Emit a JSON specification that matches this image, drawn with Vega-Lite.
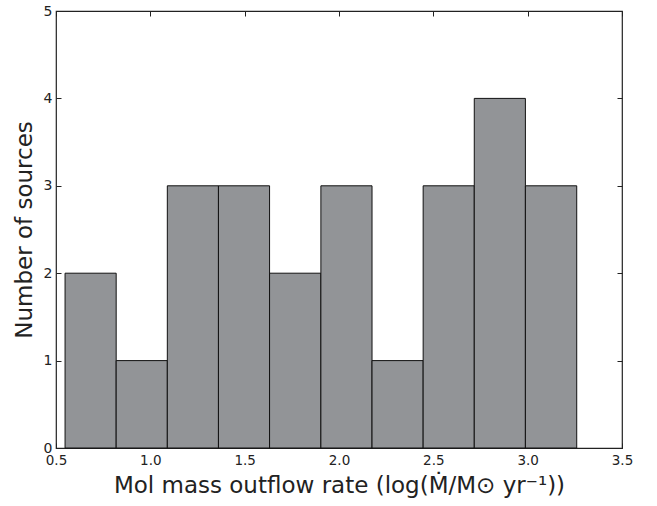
{
  "$schema": "https://vega.github.io/schema/vega-lite/v6.json",
  "width": 566,
  "height": 437,
  "autosize": {"type": "none"},
  "padding": {"left": 56, "top": 11, "right": 35, "bottom": 58},
  "background": "white",
  "config": {
    "view": {"stroke": "#222", "strokeWidth": 1.2},
    "font": "DejaVu Sans",
    "scale": {"continuousPadding": 0},
    "axis": {"grid": false, "domain": false, "tickColor": "#222", "tickSize": -5, "labelFlush": false, "labelColor": "#222", "titleColor": "#222", "labelFont": "DejaVu Sans", "titleFont": "DejaVu Sans", "titleFontWeight": "normal"}
  },
  "data": {"values": [
    {"start": 0.548, "end": 0.819, "count": 2},
    {"start": 0.819, "end": 1.090, "count": 1},
    {"start": 1.090, "end": 1.361, "count": 3},
    {"start": 1.361, "end": 1.632, "count": 3},
    {"start": 1.632, "end": 1.904, "count": 2},
    {"start": 1.904, "end": 2.175, "count": 3},
    {"start": 2.175, "end": 2.446, "count": 1},
    {"start": 2.446, "end": 2.717, "count": 3},
    {"start": 2.717, "end": 2.988, "count": 4},
    {"start": 2.988, "end": 3.260, "count": 3}
  ]},
  "layer": [
    {
      "mark": {"type": "bar", "fill": "#929497", "stroke": "#111", "strokeWidth": 1},
      "encoding": {
        "x": {"field": "start", "type": "quantitative", "scale": {"domain": [0.5, 3.5], "nice": false, "zero": false, "padding": 0},
          "axis": {"orient": "bottom", "values": [0.5, 1.0, 1.5, 2.0, 2.5, 3.0, 3.5], "format": ".1f", "labelFontSize": 13.5, "labelPadding": 10, "title": "Mol mass outflow rate (log(M\u0307/M\u2299 yr\u207b\u00b9))", "titleFontSize": 23, "titlePadding": 8}},
        "x2": {"field": "end"},
        "y": {"field": "count", "type": "quantitative", "scale": {"domain": [0, 5], "nice": false, "padding": 0},
          "axis": {"orient": "left", "values": [0, 1, 2, 3, 4, 5], "labelFontSize": 14, "labelPadding": 9, "title": "Number of sources", "titleFontSize": 23, "titlePadding": 7}},
        "y2": {"datum": 0}
      }
    },
    {
      "mark": {"type": "bar", "opacity": 0},
      "encoding": {
        "x": {"field": "start", "type": "quantitative", "scale": {"domain": [0.5, 3.5], "nice": false, "zero": false, "padding": 0},
          "axis": {"orient": "top", "values": [0.5, 1.0, 1.5, 2.0, 2.5, 3.0, 3.5], "labels": false, "title": null}},
        "y": {"field": "count", "type": "quantitative", "scale": {"domain": [0, 5], "nice": false, "padding": 0},
          "axis": {"orient": "right", "values": [0, 1, 2, 3, 4, 5], "labels": false, "title": null}}
      }
    }
  ],
  "resolve": {"axis": {"x": "independent", "y": "independent"}}
}
